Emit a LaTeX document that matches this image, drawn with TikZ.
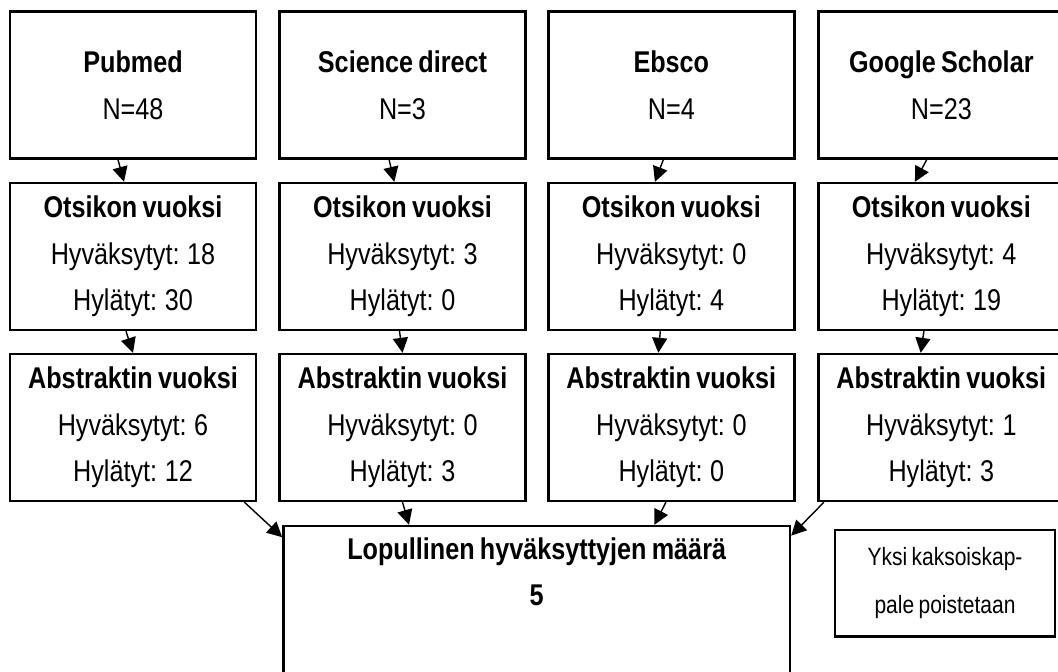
\documentclass[tikz,border=0pt]{standalone}
\usepackage{fontspec}
\setmainfont{Liberation Sans}[FakeStretch=0.84,WordSpace=0.75]
\usetikzlibrary{arrows.meta}

\tikzstyle{dbBox}=[shape=rectangle,draw=black,line width=1.2pt,minimum width=123pt,minimum height=73.5pt,inner sep=0pt,align=center,font=\fontsize{15}{23.3}\selectfont]
\tikzstyle{finalBox}=[dbBox,align=none,minimum width=253.3pt,minimum height=75.25pt]
\tikzstyle{noteBox}=[dbBox,minimum width=110pt,minimum height=53.3pt,font=\fontsize{12.5}{24}\selectfont]
\tikzstyle{flow}=[-{Triangle[width=7.5pt,length=7.5pt]},line width=0.7pt]

\begin{document}
\begin{tikzpicture}[x=0.5pt,y=-0.5pt]
        \useasboundingbox (0,0) rectangle (1058,671);
        \clip (0,0) rectangle (1058,671);

        % databases
        \node[dbBox] (db1) at (133,85)   {\textbf{Pubmed}\\N=48};
        \node[dbBox] (db2) at (402.5,85) {\textbf{Science direct}\\N=3};
        \node[dbBox] (db3) at (671.3,85) {\textbf{Ebsco}\\N=4};
        \node[dbBox] (db4) at (941.3,85) {\textbf{Google Scholar}\\N=23};

        % title screening
        \node[dbBox] (ot1) at (133,256.5)   {\textbf{Otsikon vuoksi}\\Hyväksytyt: 18\\Hylätyt: 30};
        \node[dbBox] (ot2) at (402.5,256.5) {\textbf{Otsikon vuoksi}\\Hyväksytyt: 3\\Hylätyt: 0};
        \node[dbBox] (ot3) at (671.3,256.5) {\textbf{Otsikon vuoksi}\\Hyväksytyt: 0\\Hylätyt: 4};
        \node[dbBox] (ot4) at (941.3,256.5) {\textbf{Otsikon vuoksi}\\Hyväksytyt: 4\\Hylätyt: 19};

        % abstract screening
        \node[dbBox] (ab1) at (133,427.5)   {\textbf{Abstraktin vuoksi}\\Hyväksytyt: 6\\Hylätyt: 12};
        \node[dbBox] (ab2) at (402.5,427.5) {\textbf{Abstraktin vuoksi}\\Hyväksytyt: 0\\Hylätyt: 3};
        \node[dbBox] (ab3) at (671.3,427.5) {\textbf{Abstraktin vuoksi}\\Hyväksytyt: 0\\Hylätyt: 0};
        \node[dbBox] (ab4) at (941.3,427.5) {\textbf{Abstraktin vuoksi}\\Hyväksytyt: 1\\Hylätyt: 3};

        \node[finalBox] (fin)  at (536.7,601.25) {\parbox[c][64pt][t]{250pt}{\centering\textbf{Lopullinen hyväksyttyjen määrä}\\\textbf{5}}};
        \node[noteBox]  (note) at (945,583.3)    {Yksi kaksoiskap-\\pale poistetaan};

        \draw [flow] ([xshift=-7.5pt]db1.south) to ([xshift=-4.5pt]ot1.north);
        \draw [flow] ([xshift=-6.7pt]db2.south) to ([xshift=-4.1pt]ot2.north);
        \draw [flow] ([xshift=-4pt]db3.south)   to ([xshift=-8.2pt]ot3.north);
        \draw [flow] ([xshift=-7.3pt]db4.south) to ([xshift=-13.2pt]ot4.north);

        \draw [flow] ([xshift=-3.5pt]ot1.south) to (ab1.north);
        \draw [flow] ([xshift=-1.5pt]ot2.south) to (ab2.north);
        \draw [flow] ([xshift=-5.5pt]ot3.south) to ([xshift=-6.5pt]ab3.north);
        \draw [flow] ([xshift=-8.7pt]ot4.south) to ([xshift=-10.3pt]ab4.north);

        \draw [flow] ([xshift=-6.4pt]ab1.south east) to ([yshift=-6.2pt]fin.north west);
        \draw [flow] (ab2.south)                     to ([xshift=63.4pt]fin.north west);
        \draw [flow] ([xshift=-2.7pt]ab3.south)      to ([xshift=-68.4pt]fin.north east);
        \draw [flow] ([xshift=3.4pt]ab4.south west)  to ([yshift=-5.4pt]fin.north east);
    \end{tikzpicture}
\end{document}
